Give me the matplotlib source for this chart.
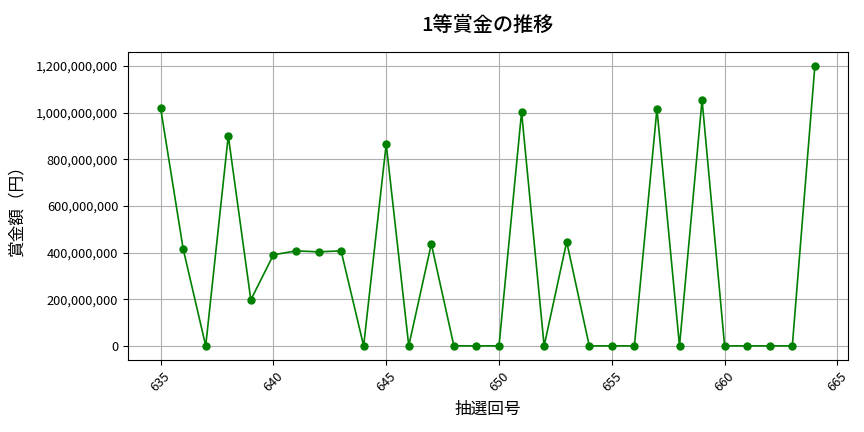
import matplotlib
matplotlib.use("Agg")
import matplotlib.pyplot as plt
from matplotlib.ticker import FuncFormatter

plt.rcParams['font.family'] = ['Noto Sans CJK JP', 'DejaVu Sans']

draws = list(range(635, 665))
prizes = [
    1020000000, 416000000, 0, 900000000, 197000000,
    390000000, 407000000, 403000000, 407000000, 0,
    865000000, 0, 437000000, 0, 0,
    0, 1002000000, 0, 446000000, 0,
    0, 0, 1015000000, 0, 1054000000,
    0, 0, 0, 0, 1200000000,
]

fig, ax = plt.subplots(figsize=(8.64, 4.32), dpi=100)
ax.plot(draws, prizes, color='green', marker='o', markersize=5, linewidth=1.2)
ax.set_title('1等賞金の推移', fontsize=14.5, fontweight='medium', pad=15)
ax.set_xlabel('抽選回号', fontsize=12, labelpad=5)
ax.set_ylabel('賞金額（円）', fontsize=12, labelpad=8)
ax.yaxis.set_major_formatter(FuncFormatter(lambda v, p: f'{int(v):,}'))
ax.set_xticks(range(635, 666, 5))
plt.setp(ax.get_xticklabels(), rotation=45)
ax.tick_params(labelsize=9.2)
ax.grid(True)
fig.subplots_adjust(left=0.148, right=0.981, top=0.880, bottom=0.167)
fig.savefig('out.png', dpi=100)
